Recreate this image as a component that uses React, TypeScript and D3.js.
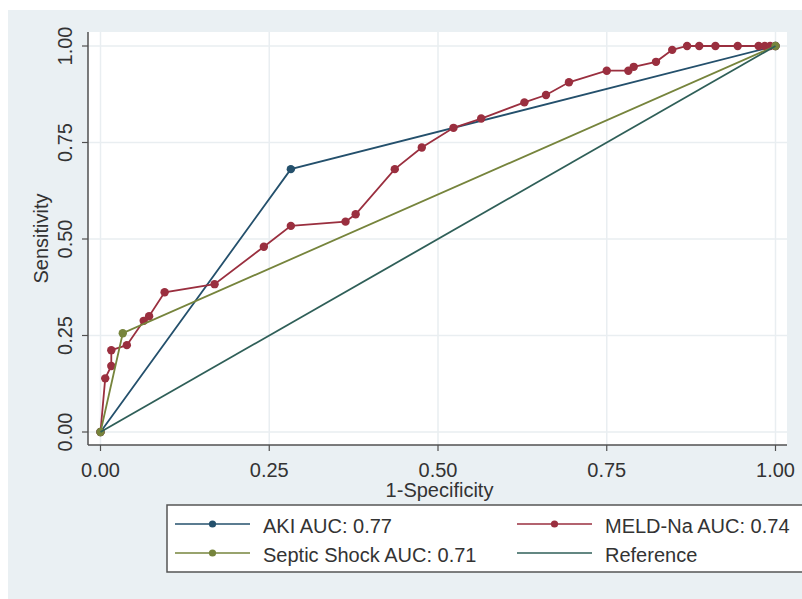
import React, { useRef, useEffect } from 'react';
import * as d3 from 'd3';

// ROC points (x = 1-specificity, y = sensitivity)
const akiPoints: [number, number][] = [[0, 0], [0.282, 0.681], [1, 1]];
const septicPoints: [number, number][] = [[0, 0], [0.033, 0.256], [1, 1]];
const meldPoints: [number, number][] = [
  [0, 0], [0.007, 0.139], [0.016, 0.171], [0.016, 0.212], [0.039, 0.225],
  [0.064, 0.288], [0.072, 0.3], [0.095, 0.362], [0.169, 0.383], [0.242, 0.48],
  [0.282, 0.534], [0.363, 0.545], [0.378, 0.564], [0.436, 0.681], [0.476, 0.737],
  [0.523, 0.788], [0.564, 0.812], [0.628, 0.854], [0.66, 0.873], [0.694, 0.906],
  [0.75, 0.936], [0.782, 0.936], [0.79, 0.946], [0.823, 0.959], [0.847, 0.99],
  [0.869, 1], [0.887, 1], [0.911, 1], [0.944, 1], [0.975, 1], [0.984, 1],
  [0.992, 1], [1, 1],
];
const refPoints: [number, number][] = [[0, 0], [1, 1]];
const ticks = [0, 0.25, 0.5, 0.75, 1];
const tickLabels = ['0.00', '0.25', '0.50', '0.75', '1.00'];
const legendLabels = ['AKI AUC: 0.77', 'MELD-Na AUC: 0.74', 'Septic Shock AUC: 0.71', 'Reference'];

const FONT = '"Liberation Sans", Arial, sans-serif';
const COLORS = {
  aki: '#24506c',
  meld: '#9a2f3f',
  septic: '#76843c',
  ref: '#2f5f58',
};

const App = () => {
  const svgRef = useRef<SVGSVGElement>(null);

  useEffect(() => {
    const svg = d3.select(svgRef.current);
    svg.selectAll('*').remove();

    const plot = { left: 88, right: 787, top: 32, bottom: 445 };

    const x = d3.scaleLinear().domain([0, 1]).range([100.5, 775.5]);
    const y = d3.scaleLinear().domain([0, 1]).range([432, 46]);

    // graph region background
    svg.append('rect').attr('x', 8).attr('y', 10).attr('width', 802).attr('height', 600)
      .attr('fill', '#eaf0f3');
    // plot region
    svg.append('rect').attr('x', plot.left).attr('y', plot.top)
      .attr('width', plot.right - plot.left).attr('height', plot.bottom - plot.top)
      .attr('fill', '#ffffff');

    // grid lines
    const grid = svg.append('g').attr('stroke', '#e9eef1').attr('stroke-width', 1.5);
    grid.selectAll('.hg').data(ticks).enter().append('line')
      .attr('x1', plot.left).attr('x2', plot.right)
      .attr('y1', d => y(d)).attr('y2', d => y(d));
    grid.selectAll('.vg').data(ticks).enter().append('line')
      .attr('y1', plot.top).attr('y2', plot.bottom)
      .attr('x1', d => x(d)).attr('x2', d => x(d));

    // axes
    const axisColor = '#505050';
    svg.append('line').attr('x1', plot.left).attr('x2', plot.left)
      .attr('y1', plot.top).attr('y2', plot.bottom)
      .attr('stroke', axisColor).attr('stroke-width', 1.5);
    svg.append('line').attr('x1', plot.left).attr('x2', plot.right)
      .attr('y1', plot.bottom).attr('y2', plot.bottom)
      .attr('stroke', axisColor).attr('stroke-width', 1.5);

    // y ticks + labels
    svg.selectAll('.yt').data(ticks).enter().append('line')
      .attr('x1', plot.left - 6).attr('x2', plot.left)
      .attr('y1', d => y(d)).attr('y2', d => y(d))
      .attr('stroke', axisColor).attr('stroke-width', 1.2);
    svg.selectAll('.yl').data(ticks).enter().append('text')
      .attr('transform', d => `translate(72,${y(d)}) rotate(-90)`)
      .attr('text-anchor', 'middle')
      .attr('font-family', FONT).attr('font-size', 20).attr('fill', '#333')
      .text((d, i) => tickLabels[i]);

    // x ticks + labels
    svg.selectAll('.xt').data(ticks).enter().append('line')
      .attr('x1', d => x(d)).attr('x2', d => x(d))
      .attr('y1', plot.bottom).attr('y2', plot.bottom + 6)
      .attr('stroke', axisColor).attr('stroke-width', 1.2);
    svg.selectAll('.xl').data(ticks).enter().append('text')
      .attr('x', d => x(d)).attr('y', 477)
      .attr('text-anchor', 'middle')
      .attr('font-family', FONT).attr('font-size', 20).attr('fill', '#333')
      .text((d, i) => tickLabels[i]);

    // axis titles
    svg.append('text')
      .attr('transform', `translate(48,${(plot.top + plot.bottom) / 2}) rotate(-90)`)
      .attr('text-anchor', 'middle')
      .attr('font-family', FONT).attr('font-size', 20).attr('fill', '#333')
      .text('Sensitivity');
    svg.append('text')
      .attr('x', (plot.left + plot.right) / 2 + 2).attr('y', 497)
      .attr('text-anchor', 'middle')
      .attr('font-family', FONT).attr('font-size', 20).attr('fill', '#333')
      .text('1-Specificity');

    const line = d3.line<[number, number]>().x(d => x(d[0])).y(d => y(d[1]));

    const drawSeries = (pts: [number, number][], color: string, markers: boolean) => {
      svg.append('path').datum(pts).attr('d', line)
        .attr('fill', 'none').attr('stroke', color).attr('stroke-width', 1.8);
      if (markers) {
        svg.append('g').selectAll('circle').data(pts).enter().append('circle')
          .attr('cx', d => x(d[0])).attr('cy', d => y(d[1])).attr('r', 4.2)
          .attr('fill', color);
      }
    };

    drawSeries(akiPoints, COLORS.aki, true);
    drawSeries(meldPoints, COLORS.meld, true);
    drawSeries(septicPoints, COLORS.septic, true);
    drawSeries(refPoints, COLORS.ref, false);

    // legend
    const legend = svg.append('g');
    legend.append('rect').attr('x', 167).attr('y', 505).attr('width', 660).attr('height', 67)
      .attr('fill', '#ffffff').attr('stroke', '#555').attr('stroke-width', 1.5);
    const items = [
      { label: legendLabels[0], color: COLORS.aki, marker: true, lx: 175, ly: 524 },
      { label: legendLabels[1], color: COLORS.meld, marker: true, lx: 517, ly: 524 },
      { label: legendLabels[2], color: COLORS.septic, marker: true, lx: 175, ly: 553 },
      { label: legendLabels[3], color: COLORS.ref, marker: false, lx: 517, ly: 553 },
    ];
    items.forEach(it => {
      legend.append('line').attr('x1', it.lx).attr('x2', it.lx + 75)
        .attr('y1', it.ly).attr('y2', it.ly)
        .attr('stroke', it.color).attr('stroke-width', 1.6);
      if (it.marker) {
        legend.append('circle').attr('cx', it.lx + 37.5).attr('cy', it.ly).attr('r', 3.6)
          .attr('fill', it.color);
      }
      legend.append('text').attr('x', it.lx + 88).attr('y', it.ly + 9)
        .attr('font-family', FONT).attr('font-size', 20).attr('fill', '#333')
        .text(it.label);
    });
  }, []);

  return (
    <svg
      ref={svgRef}
      width={802}
      height={599}
      style={{ position: 'absolute', left: 0, top: 0, background: '#ffffff' }}
    />
  );
};

export default App;
